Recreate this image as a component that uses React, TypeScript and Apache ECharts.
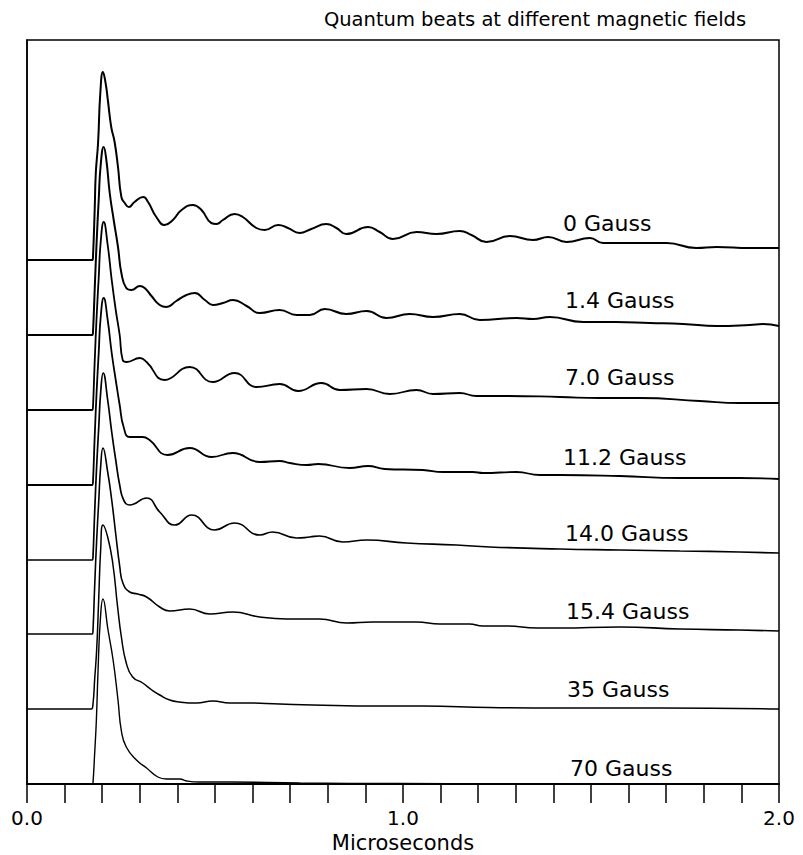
import React, { useEffect, useRef } from "react";
import * as echarts from "echarts";

// Field strengths (labels) and vertical stacking offsets of each trace
const fieldLabels = ["0 Gauss", "1.4 Gauss", "7.0 Gauss", "11.2 Gauss", "14.0 Gauss", "15.4 Gauss", "35 Gauss", "70 Gauss"];
const traceOffsets = [524, 449, 374, 299, 224, 150, 75, 0];

// Signals: [time (µs), intensity above the trace baseline]
const gauss0 = [[0,0],[0.174,0],[0.1755,3],[0.180,50],[0.183,87],[0.189,117],[0.195,167],[0.202,188],[0.209,177],[0.215,160],[0.224,133],[0.233,118],[0.242,93],[0.251,63],[0.260,57],[0.271,53],[0.286,58],[0.309,63],[0.322,58],[0.344,43],[0.366,35],[0.388,40],[0.411,50],[0.441,55],[0.464,50],[0.490,37],[0.504,36],[0.521,40],[0.552,46],[0.574,43],[0.610,32],[0.632,30],[0.668,35],[0.694,32],[0.725,27],[0.756,31],[0.796,36],[0.823,32],[0.849,26],[0.907,33],[0.938,28],[0.973,21],[1.036,28],[1.089,26],[1.151,29],[1.182,25],[1.222,18],[1.284,24],[1.346,20],[1.386,23],[1.435,18],[1.497,22],[1.532,17],[1.612,17],[1.701,17],[1.780,12],[1.834,13],[1.922,12],[2.0,12]];
const gauss1_4 = [[0,0],[0.174,0],[0.1755,3],[0.180,45],[0.1854,95],[0.1907,135],[0.196,170],[0.204,188],[0.211,175],[0.220,142],[0.2306,115],[0.242,88],[0.251,62],[0.264,47],[0.278,45],[0.300,49],[0.313,47],[0.331,39],[0.353,30],[0.371,28],[0.397,34],[0.424,40],[0.446,42],[0.473,35],[0.495,30],[0.521,32],[0.548,35],[0.584,29],[0.619,22],[0.672,25],[0.717,20],[0.752,20],[0.792,26],[0.849,21],[0.903,24],[0.956,17],[1.018,21],[1.080,18],[1.151,21],[1.204,15],[1.302,17],[1.346,16],[1.390,18],[1.479,13],[1.566,13],[1.656,12],[1.745,11],[1.834,9],[1.922,10],[1.957,11],[2.0,9]];
const gauss7_0 = [[0,0],[0.174,0],[0.1755,3],[0.180,48],[0.1854,95],[0.1907,132],[0.196,168],[0.204,188],[0.2146,165],[0.2253,130],[0.236,100],[0.2465,75],[0.2545,50],[0.265,48],[0.300,52],[0.318,48],[0.366,30],[0.4327,43],[0.494,28],[0.552,37],[0.611,23],[0.672,26],[0.721,19],[0.783,27],[0.832,20],[0.903,21],[0.965,16],[1.036,20],[1.080,16],[1.151,17],[1.195,14],[1.275,14],[1.417,13],[1.523,12],[1.629,12],[1.789,9],[1.895,7],[2.0,7]];
const gauss11_2 = [[0,0],[0.174,0],[0.1755,3],[0.180,48],[0.1854,95],[0.1907,132],[0.196,168],[0.204,187],[0.2146,165],[0.2253,132],[0.236,105],[0.2465,80],[0.257,58],[0.273,48],[0.3077,48],[0.326,45],[0.374,30],[0.4327,37],[0.491,28],[0.547,32],[0.619,23],[0.672,24],[0.699,22],[0.744,20],[0.774,21],[0.858,17],[0.907,19],[0.951,16],[1.053,15],[1.106,13],[1.186,13],[1.213,12],[1.302,13],[1.364,10],[1.417,10],[1.576,9],[1.736,7],[1.895,7],[2.0,6]];
const gauss14_0 = [[0,0],[0.174,0],[0.1755,3],[0.180,48],[0.1854,95],[0.1907,132],[0.196,168],[0.2027,187],[0.2146,160],[0.2253,128],[0.236,100],[0.2465,75],[0.257,60],[0.273,55],[0.318,62],[0.353,48],[0.393,35],[0.438,45],[0.499,30],[0.552,37],[0.619,25],[0.653,28],[0.717,22],[0.752,23],[0.778,24],[0.840,18],[0.903,20],[1.009,17],[1.142,15],[1.231,13],[1.417,11],[1.576,10],[1.736,9],[1.895,8],[2.0,7]];
const gauss15_4 = [[0,0],[0.174,0],[0.1755,3],[0.180,48],[0.1854,95],[0.1907,132],[0.196,168],[0.202,186],[0.2146,162],[0.2253,134],[0.236,100],[0.2465,68],[0.255,51],[0.273,42],[0.2944,40],[0.318,37],[0.353,27],[0.3795,23],[0.4327,25],[0.486,20],[0.547,22],[0.619,17],[0.691,15],[0.778,15],[0.850,11],[0.919,12],[1.036,12],[1.098,10],[1.177,10],[1.212,8],[1.276,8],[1.356,6],[1.417,6],[1.576,7],[1.736,5],[1.895,4],[2.0,3]];
const gauss35 = [[0,0],[0.171,0],[0.1755,5],[0.180,30],[0.1854,60],[0.1907,110],[0.196,160],[0.202,184],[0.2146,172],[0.228,146],[0.241,102],[0.251,72],[0.264,46],[0.281,32],[0.3077,26],[0.332,19],[0.353,14],[0.3795,9],[0.406,7],[0.451,6],[0.494,8],[0.539,6],[0.584,6],[0.672,5],[0.760,4],[0.938,3],[1.052,3],[1.230,1.5],[1.417,1],[1.682,1],[2.0,0]];
const gauss70 = [[0,0],[0.174,0],[0.1755,1],[0.180,31],[0.1845,64],[0.189,114],[0.195,164],[0.202,185],[0.2155,154],[0.229,124],[0.242,84],[0.251,53],[0.264,37],[0.291,24],[0.318,16],[0.348,7],[0.371,5],[0.406,5],[0.425,3],[0.459,2],[0.539,2],[0.725,1],[0.991,0.5],[1.257,0.3],[2.0,0]];

const signals = [gauss0, gauss1_4, gauss7_0, gauss11_2, gauss14_0, gauss15_4, gauss35, gauss70];

const FONT = "DejaVu Sans";

export default function App() {
  const ref = useRef<HTMLDivElement>(null);

  useEffect(() => {
    if (!ref.current) return;
    const chart = echarts.init(ref.current, undefined, { renderer: "svg" });

    const widths = [2, 2, 1.8, 1.8, 1.7, 1.6, 1.5, 1.4];
    const series = signals.map((sig, i) => ({
      type: "line",
      name: fieldLabels[i],
      data: sig.map(([t, v]) => [t, v + traceOffsets[i]]),
      showSymbol: false,
      smooth: 0.5,
      lineStyle: { color: "#000", width: widths[i] },
      z: 3,
    }));

    const labelPos = [
      [563, 223],
      [565, 300],
      [565, 377],
      [563, 457],
      [565, 533],
      [566, 611],
      [567, 689],
      [570, 768],
    ];

    chart.setOption({
      animation: false,
      backgroundColor: "#fff",
      grid: {
        left: 27,
        right: 24,
        top: 40,
        bottom: 71,
        containLabel: false,
        outerBoundsMode: "none",
        show: true,
        borderColor: "#000",
        borderWidth: 1.5,
        backgroundColor: "transparent",
      },
      xAxis: {
        type: "value",
        min: 0,
        max: 2,
        interval: 0.1,
        axisLine: { show: true, lineStyle: { color: "#000", width: 2 } },
        axisTick: { show: true, inside: false, length: 19, lineStyle: { color: "#000", width: 1.5 } },
        axisLabel: {
          show: true,
          margin: 24,
          fontSize: 20,
          fontFamily: FONT,
          color: "#000",
          showMinLabel: true,
          showMaxLabel: true,
          formatter: (v: number) => {
            const r = Math.round(v);
            return Math.abs(v - r) < 1e-6 ? r.toFixed(1) : "";
          },
        },
        splitLine: { show: false },
        name: "Microseconds",
        nameLocation: "middle",
        nameGap: 45,
        nameTextStyle: { fontSize: 21, fontFamily: FONT, color: "#000" },
      },
      yAxis: {
        type: "value",
        min: 0,
        max: 744,
        axisLine: { show: true, lineStyle: { color: "#000", width: 1.5 } },
        axisTick: { show: false },
        axisLabel: { show: false },
        splitLine: { show: false },
      },
      graphic: [
        {
          type: "text",
          x: 535,
          y: 19,
          style: {
            text: "Quantum beats at different magnetic fields",
            fontSize: 19.5,
            fontFamily: FONT,
            fill: "#000",
            textAlign: "center",
            textVerticalAlign: "middle",
          },
        },
        ...fieldLabels.map((lab, i) => ({
          type: "text",
          x: labelPos[i][0],
          y: labelPos[i][1],
          style: {
            text: lab,
            fontSize: 22,
            fontFamily: FONT,
            fill: "#000",
            textAlign: "left",
            textVerticalAlign: "middle",
          },
        })),
      ],
      series,
    });

    return () => chart.dispose();
  }, []);

  return (
    <div
      ref={ref}
      style={{ position: "fixed", left: 0, top: 0, width: 803, height: 855, background: "#fff" }}
    />
  );
}
